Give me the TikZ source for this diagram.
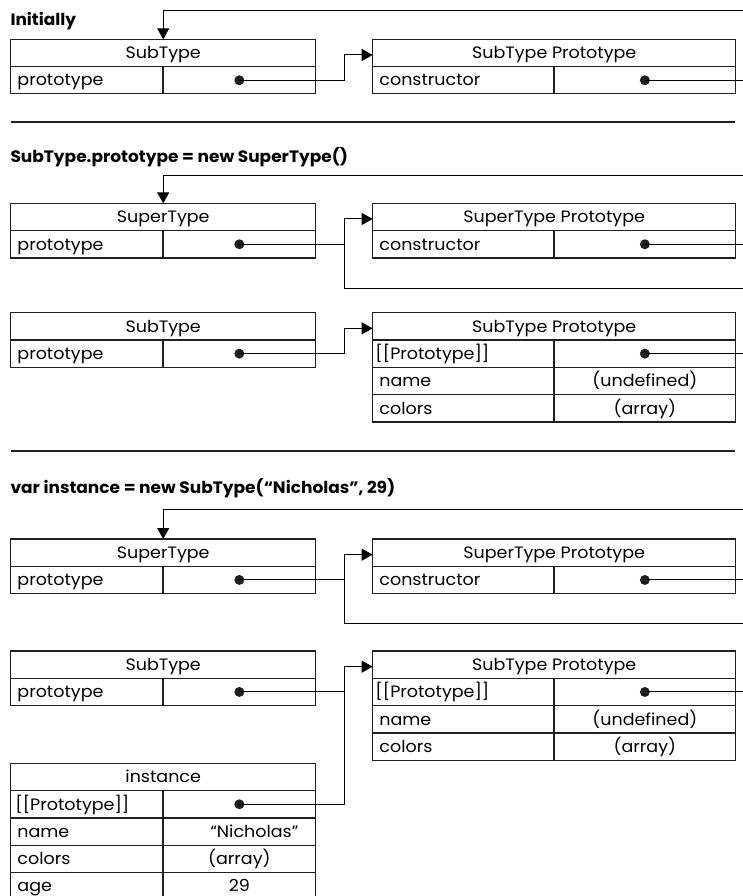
\documentclass[tikz,border=0pt]{standalone}
\usepackage{fontspec}
\setmainfont{Poppins}[FakeStretch=1.06,BoldFeatures={FakeStretch=1.03}]
\usetikzlibrary{arrows.meta,positioning}
\definecolor{myink}{RGB}{35,31,32}
\tikzstyle{hdr}=[draw=myink,line width=1.2pt,anchor=north west,minimum height=27.3pt,inner sep=0pt,outer sep=0pt,text height=11.5pt,text depth=0pt]
\tikzstyle{keyl}=[hdr,text width=138.8pt,inner xsep=6.75pt,align=left]
\tikzstyle{keyr}=[hdr,text width=167.8pt,inner xsep=6.75pt,align=left]
\tikzstyle{vall}=[hdr,minimum width=152.7pt]
\tikzstyle{valr}=[hdr,minimum width=181.7pt]
\tikzstyle{dot}=[circle,fill=myink,inner sep=0pt,minimum size=10pt]
\tikzstyle{title}=[anchor=base west,inner sep=0pt,font=\fontsize{16.5pt}{19pt}\selectfont\bfseries]
\tikzstyle{sep}=[myink,line width=2.2pt]

\begin{document}
\begin{tikzpicture}[x=1pt,y=-1pt,line width=1pt,>={Triangle[length=11pt,width=12pt]},font=\fontsize{16.5pt}{19pt}\selectfont]
\path[use as bounding box,clip] (0,0) rectangle (743,896);

% Initially
\node[title] (t1) at (10,26) {Initially};
\node[hdr,minimum width=305pt] (st1) at (10.7,39.3) {SubType};
\node[keyl] (st1k) at (st1.south west) {prototype};
\node[vall] (st1v) at (st1k.north east) {};
\node[dot] (st1d) at (st1v.center) {};
\node[hdr,minimum width=363pt] (sp1) at (372.7,39.3) {SubType Prototype};
\node[keyr] (sp1k) at (sp1.south west) {constructor};
\node[valr] (sp1v) at (sp1k.north east) {};
\node[dot] (sp1d) at (sp1v.center) {};
\coordinate (top1) at (750,10.7);
\coordinate (bus1) at ([xshift=-28.7pt,yshift=-2pt]sp1.west);
\draw[->] (top1) -| (st1.north);
\draw[->] (st1d.center) -| (bus1) -- ([yshift=-2pt]sp1.west);
\draw (sp1d.center) -- (sp1d -| top1);
\draw[sep] (10.7,121.7) -- (735,121.7);

% SubType.prototype = new SuperType()
\node[title] (t2) at (10,162.7) {SubType.prototype = new SuperType()};
\node[hdr,minimum width=305pt] (sup2) at (10.7,203.3) {SuperType};
\node[keyl] (sup2k) at (sup2.south west) {prototype};
\node[vall] (sup2v) at (sup2k.north east) {};
\node[dot] (sup2d) at (sup2v.center) {};
\node[hdr,minimum width=363pt] (supp2) at (372.7,203.3) {SuperType Prototype};
\node[keyr] (supp2k) at (supp2.south west) {constructor};
\node[valr] (supp2v) at (supp2k.north east) {};
\node[dot] (supp2d) at (supp2v.center) {};
\node[hdr,minimum width=305pt] (sub2) at (10.7,312.7) {SubType};
\node[keyl] (sub2k) at (sub2.south west) {prototype};
\node[vall] (sub2v) at (sub2k.north east) {};
\node[dot] (sub2d) at (sub2v.center) {};
\node[hdr,minimum width=363pt] (subp2) at (372.7,312.7) {SubType Prototype};
\node[keyr] (subp2k) at (subp2.south west) {\hspace*{-4pt}[[Prototype]]};
\node[valr] (subp2v) at (subp2k.north east) {};
\node[dot] (subp2d) at (subp2v.center) {};
\node[keyr] (subp2n) at (subp2k.south west) {name};
\node[valr] (subp2nv) at (subp2n.north east) {(undefined)};
\node[keyr] (subp2c) at (subp2n.south west) {colors};
\node[valr] (subp2cv) at (subp2c.north east) {(array)};
\coordinate (top2) at (750,175.5);
\coordinate (loop2) at (750,288.3);
\coordinate (bus2) at ([xshift=-28.7pt,yshift=-2pt]supp2.west);
\coordinate (bus2b) at ([xshift=-28.7pt,yshift=-2pt]subp2.west);
\draw[->] (top2) -| (sup2.north);
\draw[->] (sup2d.center) -| (bus2) -- ([yshift=-2pt]supp2.west);
\draw (bus2 |- sup2d) |- (loop2);
\draw (supp2d.center) -- (supp2d -| top2);
\draw[->] (sub2d.center) -| (bus2b) -- ([yshift=-2pt]subp2.west);
\draw (subp2d.center) -- (subp2d -| top2);
\draw[sep] (10.7,450.7) -- (735,450.7);

% var instance = new SubType("Nicholas", 29)
\node[title] (t3) at (10,493.3) {var instance = new SubType(“Nicholas”, 29)};
\node[hdr,minimum width=305pt] (sup3) at (10.7,539) {SuperType};
\node[keyl] (sup3k) at (sup3.south west) {prototype};
\node[vall] (sup3v) at (sup3k.north east) {};
\node[dot] (sup3d) at (sup3v.center) {};
\node[hdr,minimum width=363pt] (supp3) at (372.7,539) {SuperType Prototype};
\node[keyr] (supp3k) at (supp3.south west) {constructor};
\node[valr] (supp3v) at (supp3k.north east) {};
\node[dot] (supp3d) at (supp3v.center) {};
\node[hdr,minimum width=305pt] (sub3) at (10.7,651) {SubType};
\node[keyl] (sub3k) at (sub3.south west) {prototype};
\node[vall] (sub3v) at (sub3k.north east) {};
\node[dot] (sub3d) at (sub3v.center) {};
\node[hdr,minimum width=363pt] (subp3) at (372.7,651) {SubType Prototype};
\node[keyr] (subp3k) at (subp3.south west) {\hspace*{-4pt}[[Prototype]]};
\node[valr] (subp3v) at (subp3k.north east) {};
\node[dot] (subp3d) at (subp3v.center) {};
\node[keyr] (subp3n) at (subp3k.south west) {name};
\node[valr] (subp3nv) at (subp3n.north east) {(undefined)};
\node[keyr] (subp3c) at (subp3n.south west) {colors};
\node[valr] (subp3cv) at (subp3c.north east) {(array)};
\node[hdr,minimum width=305pt] (ins) at (10.7,763.3) {instance};
\node[keyl] (insk) at (ins.south west) {\hspace*{-2pt}[[Prototype]]};
\node[vall] (insv) at (insk.north east) {};
\node[dot] (insd) at (insv.center) {};
\node[keyl] (insn) at (insk.south west) {name};
\node[vall] (insnv) at (insn.north east) {\hspace*{30pt}“Nicholas”};
\node[keyl] (insc) at (insn.south west) {colors};
\node[vall] (inscv) at (insc.north east) {(array)};
\node[keyl] (insa) at (insc.south west) {age};
\node[vall] (insav) at (insa.north east) {29};
\coordinate (top3) at (750,509.5);
\coordinate (loop3) at (750,623);
\coordinate (bus3) at ([xshift=-28.7pt,yshift=-2pt]supp3.west);
\coordinate (bus3b) at ([xshift=-28.7pt,yshift=-2pt]subp3.west);
\draw[->] (top3) -| (sup3.north);
\draw[->] (sup3d.center) -| (bus3) -- ([yshift=-2pt]supp3.west);
\draw (bus3 |- sup3d) |- (loop3);
\draw (supp3d.center) -- (supp3d -| top3);
\draw[->] (sub3d.center) -| (bus3b) -- ([yshift=-2pt]subp3.west);
\draw (subp3d.center) -- (subp3d -| top3);
\draw (insd.center) -| (bus3b |- sub3d);
\end{tikzpicture}
\end{document}
